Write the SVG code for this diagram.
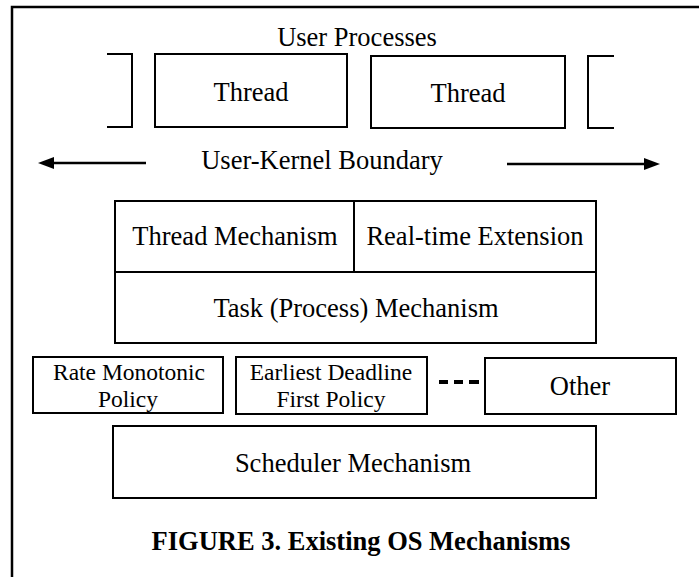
<svg xmlns="http://www.w3.org/2000/svg" width="699" height="577" viewBox="0 0 699 577">
<defs>
<style>
.box{fill:none;stroke:#000;stroke-width:2}
.frame{fill:none;stroke:#000;stroke-width:2.5}
text{font-family:"Liberation Serif","Times New Roman",serif;font-size:26.5px;fill:#000;text-anchor:middle}
.sm{font-size:23.5px}
.cap{font-weight:bold}
.conn{stroke:#000;stroke-width:2.5;fill:none}
</style>
<marker id="ah" viewBox="0 0 16 12" refX="1" refY="6" markerWidth="16" markerHeight="12" markerUnits="userSpaceOnUse" orient="auto">
<path d="M0,0 L16,6 L0,12 z" fill="#000"/>
</marker>
</defs>
<rect width="699" height="577" fill="#fff"/>
<path class="frame" d="M12,577 L12,7 L699,7"/>
<text x="357" y="46">User Processes</text>
<g id="bracket-left"><path class="box" d="M107,54 L132,54 L132,127 L107,127"/></g>
<g id="thread1"><rect class="box" x="155" y="54" width="192" height="73"/><text x="251" y="101">Thread</text></g>
<g id="thread2"><rect class="box" x="371" y="56" width="194" height="72"/><text x="468" y="102">Thread</text></g>
<g id="bracket-right"><path class="box" d="M614,56 L588,56 L588,128 L614,128"/></g>
<g id="connectors">
<line class="conn" x1="146" y1="163" x2="53" y2="163" marker-end="url(#ah)"/>
<line class="conn" x1="507" y1="164" x2="645" y2="164" marker-end="url(#ah)"/>
<g id="dashes" fill="#000"><rect x="439" y="380" width="9" height="4"/><rect x="454" y="380" width="9" height="4"/><rect x="469" y="380" width="10" height="4"/></g>
</g>
<text x="322" y="169">User-Kernel Boundary</text>
<g id="kernel">
<rect class="box" x="115" y="201" width="481" height="142"/>
<line class="box" x1="115" y1="272" x2="596" y2="272"/>
<line class="box" x1="354" y1="201" x2="354" y2="272"/>
</g>
<g id="thread-mechanism"><text x="235" y="245">Thread Mechanism</text></g>
<g id="realtime-extension"><text x="475" y="245">Real-time Extension</text></g>
<g id="task-mechanism"><text x="356" y="317">Task (Process) Mechanism</text></g>
<g id="rm-policy"><rect class="box" x="33" y="357" width="190" height="56"/><text class="sm" x="129" y="380">Rate Monotonic</text><text class="sm" x="128" y="406.5">Policy</text></g>
<g id="edf-policy"><rect class="box" x="236" y="357" width="191" height="57"/><text class="sm" x="331" y="380">Earliest Deadline</text><text class="sm" x="331" y="406.5">First Policy</text></g>
<g id="other"><rect class="box" x="485" y="358" width="191" height="56"/><text x="580" y="395">Other</text></g>
<g id="scheduler"><rect class="box" x="113" y="426" width="483" height="72"/><text x="353" y="472">Scheduler Mechanism</text></g>
<text class="cap" x="361" y="550">FIGURE 3. Existing OS Mechanisms</text>
</svg>
